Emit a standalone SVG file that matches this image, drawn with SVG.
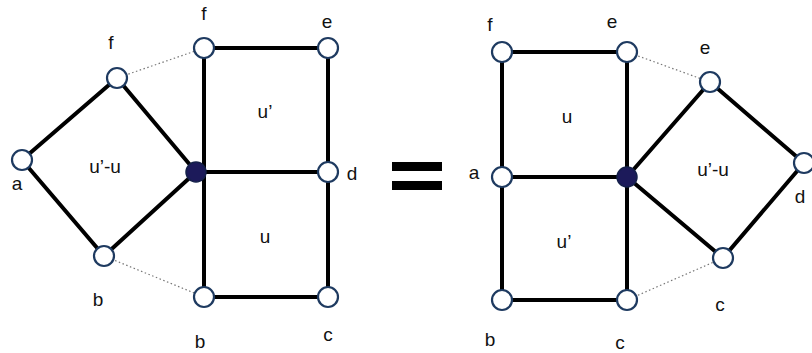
<svg xmlns="http://www.w3.org/2000/svg" width="812" height="353" viewBox="0 0 812 353">
<style>
.e{stroke:#000;stroke-width:4;fill:none;stroke-linecap:round}
.d{stroke:#777;stroke-width:1.2;stroke-dasharray:1.5 2.5;fill:none}
.n{fill:#fff;stroke:#1e3a60;stroke-width:2.2}
.h{fill:#1c1a5a;stroke:#14204a;stroke-width:1.5}
text{font-family:"Liberation Sans",Arial,sans-serif;font-size:19px;fill:#111;text-anchor:middle}
</style>
<rect width="812" height="353" fill="#fff"/>
<g id="connectors">
<line class="e" x1="22" y1="160" x2="117" y2="78"/>
<line class="e" x1="117" y1="78" x2="196" y2="172"/>
<line class="e" x1="22" y1="160" x2="104" y2="256"/>
<line class="e" x1="104" y1="256" x2="196" y2="172"/>
<line class="e" x1="204" y1="48" x2="328" y2="48"/>
<line class="e" x1="204" y1="48" x2="204" y2="297"/>
<line class="e" x1="328" y1="48" x2="328" y2="297"/>
<line class="e" x1="196" y1="172" x2="328" y2="172"/>
<line class="e" x1="204" y1="297" x2="328" y2="297"/>
<line class="d" x1="117" y1="78" x2="204" y2="48"/>
<line class="d" x1="104" y1="256" x2="204" y2="297"/>
<line class="e" x1="502" y1="52" x2="627" y2="52"/>
<line class="e" x1="502" y1="52" x2="502" y2="300"/>
<line class="e" x1="627" y1="52" x2="627" y2="300"/>
<line class="e" x1="502" y1="177" x2="627" y2="177"/>
<line class="e" x1="502" y1="300" x2="627" y2="300"/>
<line class="e" x1="627" y1="177" x2="710" y2="82"/>
<line class="e" x1="710" y1="82" x2="804" y2="163"/>
<line class="e" x1="627" y1="177" x2="723" y2="258"/>
<line class="e" x1="723" y1="258" x2="804" y2="163"/>
<line class="d" x1="627" y1="52" x2="710" y2="82"/>
<line class="d" x1="627" y1="300" x2="723" y2="258"/>
</g>
<g id="equals">
<rect x="392" y="162" width="50" height="9" fill="#000"/>
<rect x="392" y="181" width="50" height="9" fill="#000"/>
</g>
<g id="L-a"><circle class="n" cx="22" cy="160" r="10"/><text x="17" y="190">a</text></g>
<g id="L-f1"><circle class="n" cx="117" cy="78" r="10"/><text x="111" y="49">f</text></g>
<g id="L-b1"><circle class="n" cx="104" cy="256" r="10"/><text x="98" y="306">b</text></g>
<g id="L-x"><circle class="h" cx="196" cy="172" r="10"/></g>
<g id="L-f2"><circle class="n" cx="204" cy="48" r="10"/><text x="204" y="20">f</text></g>
<g id="L-e"><circle class="n" cx="328" cy="48" r="10"/><text x="327" y="28">e</text></g>
<g id="L-d"><circle class="n" cx="328" cy="172" r="10"/><text x="352" y="180">d</text></g>
<g id="L-b2"><circle class="n" cx="204" cy="297" r="10"/><text x="200" y="348">b</text></g>
<g id="L-c"><circle class="n" cx="328" cy="297" r="10"/><text x="328" y="341">c</text></g>
<g id="L-labels"><text x="105" y="173">u’-u</text><text x="265" y="118">u’</text><text x="265" y="243">u</text></g>
<g id="R-f"><circle class="n" cx="502" cy="52" r="10"/><text x="490" y="31">f</text></g>
<g id="R-e1"><circle class="n" cx="627" cy="52" r="10"/><text x="612" y="28">e</text></g>
<g id="R-a"><circle class="n" cx="502" cy="177" r="10"/><text x="474" y="179">a</text></g>
<g id="R-x"><circle class="h" cx="627" cy="177" r="10"/></g>
<g id="R-b"><circle class="n" cx="502" cy="300" r="10"/><text x="490" y="346">b</text></g>
<g id="R-c1"><circle class="n" cx="627" cy="300" r="10"/><text x="620" y="349">c</text></g>
<g id="R-e2"><circle class="n" cx="710" cy="82" r="10"/><text x="705" y="54">e</text></g>
<g id="R-d"><circle class="n" cx="804" cy="163" r="10"/><text x="800" y="203">d</text></g>
<g id="R-c2"><circle class="n" cx="723" cy="258" r="10"/><text x="720" y="311">c</text></g>
<g id="R-labels"><text x="713" y="176">u’-u</text><text x="567" y="123">u</text><text x="564" y="248">u’</text></g>
</svg>
